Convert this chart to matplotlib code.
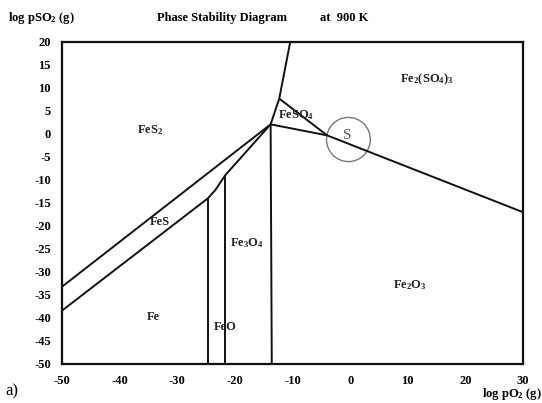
import matplotlib
matplotlib.use("Agg")
import matplotlib.pyplot as plt
from matplotlib.patches import Ellipse

plt.rcParams['font.family'] = ['Liberation Serif', 'DejaVu Serif']
plt.rcParams['font.weight'] = 'bold'
plt.rcParams['mathtext.fontset'] = 'custom'
plt.rcParams['mathtext.rm'] = 'Liberation Serif:bold'
plt.rcParams['mathtext.bf'] = 'Liberation Serif:bold'
plt.rcParams['mathtext.it'] = 'Liberation Serif:bold'

# phase boundaries, (log pO2, log pSO2) points
fes2_fes_x = [-50, -13.8]
fes2_fes_y = [-33.2, 2.1]
fe_fes_x = [-50, -24.7]
fe_fes_y = [-38.4, -14.0]
fes_feo_x = [-24.7, -23.4, -21.7]
fes_feo_y = [-14.0, -12.2, -9.0]
fes_fe3o4_x = [-21.7, -13.8]
fes_fe3o4_y = [-9.0, 2.1]
fe_feo_x = [-24.7, -24.7]
fe_feo_y = [-50, -14.0]
feo_fe3o4_x = [-21.7, -21.7]
feo_fe3o4_y = [-50, -9.0]
fe3o4_fe2o3_x = [-13.6, -13.8]
fe3o4_fe2o3_y = [-50, 2.1]
fes2_feso4_x = [-13.8, -12.3]
fes2_feso4_y = [2.1, 7.7]
fes2_fe2so43_x = [-12.3, -10.4]
fes2_fe2so43_y = [7.7, 20]
feso4_fe2so43_x = [-12.3, -4.0]
feso4_fe2so43_y = [7.7, -0.3]
feso4_fe2o3_x = [-13.8, -4.0]
feso4_fe2o3_y = [2.1, -0.3]
fe2so43_fe2o3_x = [-4.0, 30]
fe2so43_fe2o3_y = [-0.3, -17.0]

# region labels
labels = ["FeS$_2$", "Fe$_2$(SO$_4$)$_3$", "FeSO$_4$", "FeS", "Fe$_3$O$_4$",
          "Fe", "FeO", "Fe$_2$O$_3$"]
label_x = [-34.7, 13.3, -9.3, -33.0, -17.9, -34.2, -21.7, 10.4]
label_y = [0.8, 11.9, 4.1, -19.2, -23.7, -39.8, -41.9, -32.8]

xticks = [-50, -40, -30, -20, -10, 0, 10, 20, 30]
yticks = [20, 15, 10, 5, 0, -5, -10, -15, -20, -25, -30, -35, -40, -45, -50]

fig = plt.figure(figsize=(5.42, 4.03), dpi=100)
ax = fig.add_axes([0.1144, 0.0968, 0.8506, 0.799])

segments = [
    (fes2_fes_x, fes2_fes_y), (fe_fes_x, fe_fes_y), (fes_feo_x, fes_feo_y),
    (fes_fe3o4_x, fes_fe3o4_y), (fe_feo_x, fe_feo_y), (feo_fe3o4_x, feo_fe3o4_y),
    (fe3o4_fe2o3_x, fe3o4_fe2o3_y), (fes2_feso4_x, fes2_feso4_y),
    (fes2_fe2so43_x, fes2_fe2so43_y), (feso4_fe2so43_x, feso4_fe2so43_y),
    (feso4_fe2o3_x, feso4_fe2o3_y), (fe2so43_fe2o3_x, fe2so43_fe2o3_y),
]
for sx, sy in segments:
    ax.plot(sx, sy, color='#111111', lw=1.4, solid_capstyle='butt')

for t, x, y in zip(labels, label_x, label_y):
    ax.text(x, y, t, fontsize=9, ha='center', va='center', color='#222222')

ax.add_patch(Ellipse((-0.3, -1.2), 7.6, 9.6, fill=False, edgecolor='#777777', lw=1.0))
ax.text(-0.5, -0.3, "S", fontsize=11, fontweight='normal', ha='center', va='center', color='#555555')

ax.set_xlim(-50, 30)
ax.set_ylim(-50, 20)
ax.set_xticks(xticks)
ax.set_yticks(yticks)
ax.set_xticklabels([str(v) for v in xticks])
ax.set_yticklabels([str(v) for v in yticks])
ax.tick_params(length=0, labelsize=9, pad=8)
for s in ax.spines.values():
    s.set_linewidth(1.6)
    s.set_color('#111111')

fig.text(0.015, 0.955, "log pSO$_2$ (g)", fontsize=9, va='center')
fig.text(0.29, 0.955, "Phase Stability Diagram", fontsize=9, va='center')
fig.text(0.59, 0.955, "at  900 K", fontsize=9, va='center')
fig.text(0.89, 0.022, "log pO$_2$ (g)", fontsize=9, va='center')
fig.text(0.01, 0.028, "a)", fontsize=12, fontweight='normal', va='center')

fig.savefig("out.png", dpi=100)
